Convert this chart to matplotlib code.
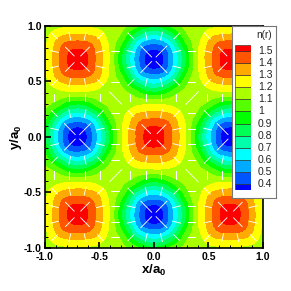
import numpy as np
import matplotlib
matplotlib.use('Agg')
import matplotlib.pyplot as plt
import matplotlib.tri as mtri
from matplotlib.ticker import MultipleLocator

plt.rcParams['font.family'] = ['Liberation Sans', 'DejaVu Sans']
plt.rcParams['mathtext.fontset'] = 'custom'
plt.rcParams['mathtext.rm'] = 'Liberation Sans'
plt.rcParams['mathtext.bf'] = 'Liberation Sans:bold'

# n(r), one quadrant (x, y = 0 ... 1.0), picture is symmetric
grid_pos = [0.0, 0.1, 0.2, 0.3, 0.4, 0.5, 0.6, 0.7, 0.8, 0.9, 1.0]
n_quad = [
    [1.56, 1.49, 1.345, 1.18, 0.91, 0.64, 0.42, 0.30, 0.42, 0.64, 0.91],
    [1.49, 1.46, 1.33, 1.18, 0.96, 0.70, 0.48, 0.42, 0.48, 0.70, 0.96],
    [1.345, 1.33, 1.27, 1.16, 1.07, 0.86, 0.70, 0.64, 0.70, 0.86, 1.07],
    [1.18, 1.18, 1.16, 1.13, 1.12, 1.07, 0.96, 0.91, 0.96, 1.07, 1.12],
    [0.91, 0.96, 1.07, 1.12, 1.13, 1.16, 1.18, 1.18, 1.18, 1.16, 1.13],
    [0.64, 0.70, 0.86, 1.07, 1.16, 1.27, 1.33, 1.345, 1.33, 1.27, 1.16],
    [0.42, 0.48, 0.70, 0.96, 1.18, 1.33, 1.46, 1.49, 1.46, 1.33, 1.18],
    [0.30, 0.42, 0.64, 0.91, 1.18, 1.345, 1.49, 1.56, 1.49, 1.345, 1.18],
    [0.42, 0.48, 0.70, 0.96, 1.18, 1.33, 1.46, 1.49, 1.46, 1.33, 1.18],
    [0.64, 0.70, 0.86, 1.07, 1.16, 1.27, 1.33, 1.345, 1.33, 1.27, 1.16],
    [0.91, 0.96, 1.07, 1.12, 1.13, 1.16, 1.18, 1.18, 1.18, 1.16, 1.13],
]

# white sticks, same quadrant
stick_pos = [0.07, 0.21, 0.35, 0.49, 0.63, 0.77, 0.91]
stick_u = [
    [0.085, 0.078, 0.08, 0.078, 0.105, -0.105, -0.078],
    [0.018, 0.06, 0.08, 0.06, 0.018, -0.018, -0.06],
    [0.0, 0.0, 0.12, 0.0, 0.0, 0.0, 0.0],
    [-0.018, -0.06, -0.08, -0.06, -0.018, 0.018, 0.06],
    [-0.105, -0.078, -0.08, -0.078, -0.085, 0.085, 0.078],
    [-0.105, -0.078, -0.08, -0.078, -0.085, 0.085, 0.078],
    [-0.018, -0.06, -0.08, -0.06, -0.018, 0.018, 0.06],
]
stick_v = [
    [0.085, 0.018, 0.0, -0.018, -0.105, -0.105, -0.018],
    [0.078, 0.06, 0.0, -0.06, -0.078, -0.078, -0.06],
    [0.08, 0.08, 0.12, -0.08, -0.08, -0.08, -0.08],
    [0.078, 0.06, 0.0, -0.06, -0.078, -0.078, -0.06],
    [0.105, 0.018, 0.0, -0.018, -0.085, -0.085, -0.018],
    [-0.105, -0.018, 0.0, 0.018, 0.085, 0.085, 0.018],
    [-0.078, -0.06, 0.0, 0.06, 0.078, 0.078, 0.06],
]

levels = [0.4, 0.5, 0.6, 0.7, 0.8, 0.9, 1.0, 1.1, 1.2, 1.3, 1.4, 1.5]
level_labels = ['0.4', '0.5', '0.6', '0.7', '0.8', '0.9', '1', '1.1', '1.2', '1.3', '1.4', '1.5']
band_colors = ['#0000ff', '#0055ff', '#00aaff', '#00ffff', '#00ffaa', '#00ff55', '#00ff00',
               '#55ff00', '#aaff00', '#ffff00', '#ffaa00', '#ff5500', '#ff0000']


def mirror(vals):
    # unfold a quadrant into the full square
    vals = np.array(vals)
    vals = np.concatenate([vals[:, :0:-1], vals], axis=1)
    return np.concatenate([vals[:0:-1], vals], axis=0)


def mirror_sticks(vals, sx, sy):
    vals = np.array(vals)
    vals = np.concatenate([sx * vals[:, ::-1], vals], axis=1)
    return np.concatenate([sy * vals[::-1], vals], axis=0)


pos = np.array(grid_pos)
xs = np.concatenate([-pos[:0:-1], pos])
X, Y = np.meshgrid(xs, xs)
Z = mirror(n_quad)

# smooth contours from the typed grid
tri = mtri.Triangulation(X.ravel(), Y.ravel())
tri_fine, z_fine = mtri.UniformTriRefiner(tri).refine_field(Z.ravel(), subdiv=3)

fig = plt.figure(figsize=(2.91, 2.91), dpi=100)
W, H = 291.0, 291.0
ax = fig.add_axes([44.7 / W, 1 - 247.7 / H, (263 - 44.7) / W, (247.7 - 26) / H])

bounds = [0.0] + levels + [2.0]
ax.tricontourf(tri_fine, z_fine, levels=bounds, colors=band_colors)

sp = np.array(stick_pos)
sxs = np.concatenate([-sp[::-1], sp])
SX, SY = np.meshgrid(sxs, sxs)
ax.quiver(SX, SY, mirror_sticks(stick_u, -1, 1), mirror_sticks(stick_v, 1, -1),
          angles='xy', scale_units='xy', scale=1, pivot='mid', color='white',
          width=0.004, headwidth=1, headlength=0, headaxislength=0)

ax.set_xlim(-1, 1)
ax.set_ylim(-1, 1)
ax.xaxis.set_major_locator(MultipleLocator(0.5))
ax.yaxis.set_major_locator(MultipleLocator(0.5))
ax.xaxis.set_minor_locator(MultipleLocator(0.1))
ax.yaxis.set_minor_locator(MultipleLocator(0.1))
ax.tick_params(which='major', direction='in', length=4, width=1.2, pad=2)
ax.tick_params(axis='x', which='major', pad=3)
ax.tick_params(which='minor', direction='in', length=2, width=0.7)
ax.xaxis.set_major_formatter(lambda v, p: f'{v:.1f}')
ax.yaxis.set_major_formatter(lambda v, p: f'{v:.1f}')
for lab in ax.get_xticklabels() + ax.get_yticklabels():
    lab.set_fontweight('bold')
    lab.set_fontsize(7.5)
for sp_name in ax.spines:
    ax.spines[sp_name].set_linewidth(1.2)
ax.set_xlabel(r'x/a$_{\mathbf{0}}$', fontsize=9.5, fontweight='bold', labelpad=1)
ax.set_ylabel(r'y/a$_{\mathbf{0}}$', fontsize=9.5, fontweight='bold', labelpad=0)

# legend box
box = fig.add_axes([231.7 / W, 1 - 198 / H, (275.7 - 231.7) / W, (198 - 26) / H])
box.set_xticks([])
box.set_yticks([])
box.set_facecolor('white')
for sp_name in box.spines:
    box.spines[sp_name].set_color('#777777')
    box.spines[sp_name].set_linewidth(0.8)
box.set_xlim(231.7, 275.7)
box.set_ylim(198, 26)
box.text(272, 35, 'n(r)', fontsize=7.2, ha='right', va='center', color='#222222')

leg = fig.add_axes([235 / W, 1 - 190 / H, (250.7 - 235) / W, (190 - 45) / H])
half = 0.05
edges = [levels[0] - half] + levels + [levels[-1] + half]
leg.bar(0, np.diff(edges), bottom=edges[:-1], width=1, color=band_colors,
        edgecolor='#222222', linewidth=0.4)
leg.set_xlim(-0.5, 0.5)
leg.set_ylim(edges[0], edges[-1])
leg.axis('off')
for v, s in zip(levels, level_labels):
    leg.annotate(s, (0.5, v), xytext=(258 - 250.7, 0), textcoords='offset pixels',
                 fontsize=7.5, ha='left', va='center', color='#222222', annotation_clip=False)

fig.savefig('out.png', dpi=100)
